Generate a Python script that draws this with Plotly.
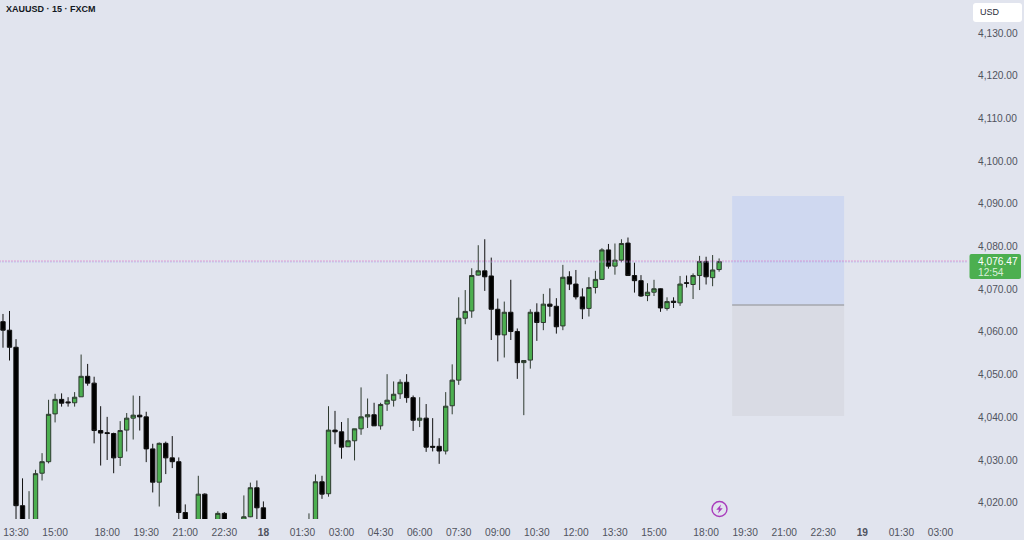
import plotly.graph_objects as go

# Candle values (15 min bars); candles below the visible floor are estimates
opens = [4062.4,4060.4,4056.4,4019.3,4005.0,4010.0,4026.9,4029.6,4040.8,4044.2,4043.6,4043.4,4044.8,4049.6,4048.0,4036.9,4036.4,4036.2,4030.6,4037.0,
         4039.8,4040.5,4040.1,4032.6,4024.8,4033.9,4030.5,4029.6,4017.7,4011.0,4012.0,4022.0,4012.0,4013.0,4017.5,4013.5,4012.5,4013.0,4016.7,4023.5,
         4018.8,4012.0,4011.0,4010.5,4011.5,4011.0,4012.0,4012.0,4014.0,4024.9,4022.1,4037.0,4036.6,4033.1,4034.5,4037.3,4040.1,4040.6,4038.0,4043.1,
         4044.0,4045.5,4048.2,4044.6,4039.3,4039.8,4033.2,4033.2,4032.1,4042.7,4048.7,4063.2,4064.9,4073.3,4074.3,4073.1,4065.3,4059.3,4064.6,4060.1,
         4052.8,4053.4,4064.6,4062.2,4066.5,4066.0,4061.4,4072.9,4071.2,4068.2,4065.5,4070.4,4072.3,4079.2,4075.4,4076.8,4080.8,4073.2,4072.0,4068.5,
         4069.3,4070.1,4065.5,4067.2,4066.8,4071.5,4071.1,4073.2,4076.5,4072.7,4074.6]
highs = [4064.2,4064.9,4058.3,4025.7,4022.7,4027.7,4031.6,4044.1,4045.5,4045.6,4044.7,4045.9,4054.7,4052.5,4049.5,4042.6,4040.1,4036.4,4039.1,4041.0,
         4045.1,4045.0,4041.3,4033.8,4034.1,4034.3,4035.6,4030.6,4019.6,4015.0,4026.3,4022.2,4014.0,4018.0,4017.8,4015.0,4014.5,4021.7,4024.7,4025.2,
         4020.3,4013.5,4013.0,4012.5,4013.5,4013.0,4014.5,4017.5,4026.6,4026.3,4042.6,4041.5,4038.9,4039.8,4037.3,4047.0,4044.4,4043.4,4043.4,4050.1,
         4048.4,4048.9,4050.1,4045.1,4044.7,4043.1,4039.8,4035.1,4045.9,4052.4,4068.1,4069.8,4074.9,4080.3,4081.7,4077.4,4067.8,4067.1,4072.2,4060.8,
         4053.3,4065.3,4066.7,4068.9,4070.2,4067.9,4075.7,4074.2,4074.5,4070.2,4072.8,4074.3,4079.6,4080.6,4080.7,4081.7,4082.1,4076.2,4073.3,4071.4,
         4072.2,4070.2,4068.1,4068.1,4073.1,4073.2,4073.7,4077.8,4077.6,4078.0,4077.2]
lows = [4056.3,4053.3,4010.0,4005.0,4003.0,4008.0,4025.2,4029.2,4038.8,4042.5,4042.5,4042.5,4044.8,4047.4,4033.9,4028.7,4030.0,4026.9,4028.6,4032.0,
        4034.8,4036.9,4029.5,4022.4,4019.1,4026.7,4028.1,4014.0,4011.0,4010.0,4011.0,4011.0,4010.0,4012.0,4013.0,4012.0,4011.5,4012.0,4016.6,4015.0,
        4011.0,4010.0,4009.5,4009.5,4010.0,4010.0,4011.0,4011.0,4013.0,4020.9,4021.4,4033.7,4030.3,4033.1,4029.9,4035.9,4037.5,4038.0,4037.1,4041.5,
        4042.5,4044.3,4043.4,4036.8,4037.7,4031.9,4032.0,4029.1,4031.3,4040.7,4047.6,4061.8,4063.3,4073.2,4069.6,4058.1,4053.1,4054.0,4058.1,4049.0,
        4040.5,4051.4,4057.9,4060.4,4063.6,4059.6,4060.4,4069.8,4067.6,4063.0,4063.6,4069.0,4072.2,4074.8,4073.4,4076.3,4073.2,4069.2,4068.2,4067.2,
        4068.4,4064.7,4065.0,4065.6,4066.1,4070.4,4067.7,4069.8,4071.1,4070.7,4074.1]
closes = [4060.4,4056.4,4019.3,4010.0,4012.0,4026.8,4029.6,4040.7,4044.2,4043.3,4043.4,4044.7,4049.6,4048.0,4036.9,4036.3,4036.2,4030.5,4036.9,4039.8,
          4040.5,4040.1,4032.6,4024.8,4033.9,4030.5,4029.6,4017.7,4013.0,4013.0,4022.0,4012.0,4011.5,4017.5,4014.0,4012.5,4014.0,4016.7,4023.5,4018.8,
          4012.0,4011.0,4012.0,4011.5,4011.0,4012.0,4011.5,4014.0,4024.9,4022.0,4037.0,4036.6,4033.0,4034.5,4037.3,4040.1,4040.6,4038.0,4043.0,4044.0,
          4045.4,4048.2,4044.6,4039.3,4039.8,4033.0,4033.0,4032.1,4042.6,4048.7,4063.2,4064.8,4073.2,4074.3,4072.9,4065.3,4059.3,4064.6,4060.1,4052.8,
          4053.3,4064.6,4062.2,4066.5,4066.0,4061.2,4072.8,4071.2,4068.2,4065.4,4070.4,4072.3,4079.2,4075.4,4076.8,4080.7,4073.2,4072.0,4068.4,4069.3,
          4070.1,4065.6,4067.1,4066.9,4071.2,4071.4,4073.2,4076.5,4072.9,4074.5,4076.47]

tick_index = [2,8,16,22,28,34,40,46,52,58,64,70,76,82,88,94,100,108,114,120,126,132,138,144]
tick_text = ["13:30","15:00","18:00","19:30","21:00","22:30","<b>18</b>","01:30","03:00","04:30","06:00","07:30",
             "09:00","10:30","12:00","13:30","15:00","18:00","19:30","21:00","22:30","<b>19</b>","01:30","03:00"]
price_ticks = [4020,4030,4040,4050,4060,4070,4080,4090,4100,4110,4120,4130]
last_price = 4076.47
target_top, entry, stop = 4091.8, 4066.3, 4040.3
zone_left, zone_right = 112.0, 129.2

W, H = 1024, 540
PLOT_R, PLOT_B = 968, 519
BG = "#E1E4EE"
FONT = "Liberation Sans"

def px(x): return x / PLOT_R
def py(y): return 1 - y / PLOT_B

def round_rect(x0, y0, x1, y1, r):
    return (f"M {px(x0+r)} {py(y0)} L {px(x1-r)} {py(y0)} Q {px(x1)} {py(y0)} {px(x1)} {py(y0+r)} "
            f"L {px(x1)} {py(y1-r)} Q {px(x1)} {py(y1)} {px(x1-r)} {py(y1)} "
            f"L {px(x0+r)} {py(y1)} Q {px(x0)} {py(y1)} {px(x0)} {py(y1-r)} "
            f"L {px(x0)} {py(y0+r)} Q {px(x0)} {py(y0)} {px(x0+r)} {py(y0)} Z")

fig = go.Figure()
fig.add_trace(go.Candlestick(
    x=list(range(len(opens))), open=opens, high=highs, low=lows, close=closes,
    increasing=dict(line=dict(color="#2E3A2F", width=1), fillcolor="#4CAF50"),
    decreasing=dict(line=dict(color="#111111", width=1), fillcolor="#000000"),
    whiskerwidth=0, showlegend=False, hoverinfo="skip"))

n_right = 148.23
fig.add_trace(go.Scatter(x=[-1, n_right], y=[last_price + 0.12]*2, mode="lines",
                         line=dict(color="#E050B0", width=1, dash="1px,2px"), showlegend=False, hoverinfo="skip"))
fig.add_trace(go.Scatter(x=[-1, n_right], y=[last_price - 0.12]*2, mode="lines",
                         line=dict(color="#A8B8F0", width=1, dash="1px,2px"), showlegend=False, hoverinfo="skip"))

shapes = [
    dict(type="rect", xref="x", yref="y", x0=zone_left, x1=zone_right, y0=entry, y1=target_top,
         fillcolor="#CFD8F0", line_width=0, layer="below"),
    dict(type="rect", xref="x", yref="y", x0=zone_left, x1=zone_right, y0=stop, y1=entry,
         fillcolor="#D9DBE4", line_width=0, layer="below"),
    dict(type="line", xref="x", yref="y", x0=zone_left, x1=zone_right, y0=entry, y1=entry,
         line=dict(color="#A5A7AE", width=1.5), layer="below"),
    dict(type="path", xref="paper", yref="paper", path=round_rect(973, 3, 1022, 22, 3),
         fillcolor="#FFFFFF", line_width=0),
    dict(type="path", xref="paper", yref="paper", path=round_rect(969.5, 254, 1021, 279, 2),
         fillcolor="#4CAF50", line_width=0),
    dict(type="circle", xref="paper", yref="paper", x0=px(712), x1=px(727), y0=py(516.5), y1=py(501.5),
         fillcolor="rgba(0,0,0,0)", line=dict(color="#A93CBC", width=1.4)),
    dict(type="path", xref="paper", yref="paper",
         path=f"M {px(721)} {py(504.5)} L {px(716.3)} {py(509.8)} L {px(719)} {py(509.8)} L {px(718)} {py(513.5)} "
              f"L {px(722.7)} {py(508.2)} L {px(720)} {py(508.2)} Z",
         fillcolor="#A93CBC", line_width=0),
]

annotations = [
    dict(xref="paper", yref="paper", x=px(4), y=py(8.5), xanchor="left", yanchor="middle", showarrow=False,
         text="XAUUSD · 15 · FXCM", font=dict(family=FONT, size=9, color="#131722", weight=600)),
    dict(xref="paper", yref="paper", x=px(978), y=py(12.5), xanchor="left", yanchor="middle", showarrow=False,
         text="USD", font=dict(family=FONT, size=9, color="#2A2E39")),
    dict(xref="paper", yref="paper", x=px(975.5), y=py(261.5), xanchor="left", yanchor="middle", showarrow=False,
         text="4,076.47", font=dict(family=FONT, size=10.2, color="#FFFFFF")),
    dict(xref="paper", yref="paper", x=px(976), y=py(272), xanchor="left", yanchor="middle", showarrow=False,
         text="12:54", font=dict(family=FONT, size=10.2, color="rgba(255,255,255,0.8)")),
]

fig.update_layout(
    width=W, height=H, autosize=False,
    margin=dict(l=0, r=W - PLOT_R, t=0, b=H - PLOT_B, pad=0),
    paper_bgcolor=BG, plot_bgcolor=BG, boxgap=0.05,
    shapes=shapes, annotations=annotations,
    font=dict(family=FONT, size=10.2, color="#50535E"),
    xaxis=dict(range=[-0.46, n_right], rangeslider=dict(visible=False), showgrid=False, zeroline=False,
               showline=False, tickmode="array", tickvals=tick_index, ticktext=tick_text,
               ticks="outside", ticklen=4, tickcolor="rgba(0,0,0,0)", tickangle=0,
               tickfont=dict(family=FONT, size=10.2, color="#50535E")),
    yaxis=dict(side="right", range=[4016.18, 4137.73], showgrid=False, zeroline=False, showline=False,
               tickmode="array", tickvals=price_ticks, tickformat=",.2f",
               ticks="outside", ticklen=7, tickcolor="rgba(0,0,0,0)",
               tickfont=dict(family=FONT, size=10.2, color="#50535E")),
)

fig.write_html("out.html", config=dict(displayModeBar=False),
               post_script="document.documentElement.style.margin='0';document.body.style.margin='0';document.body.style.overflow='hidden';document.body.style.background='#E1E4EE';")
